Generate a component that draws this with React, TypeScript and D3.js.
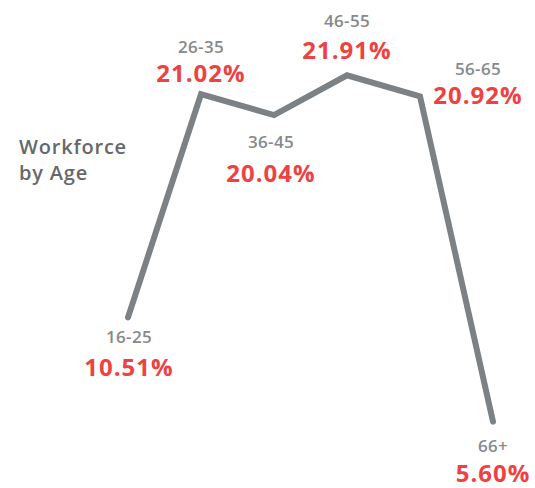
import React, { useRef, useEffect } from 'react';
import * as d3 from 'd3';

const AGE_GROUPS = ['16-25', '26-35', '36-45', '46-55', '56-65', '66+'];
const SHARE = [10.51, 21.02, 20.04, 21.91, 20.92, 5.6];
const TITLE_LINES = ['Workforce', 'by Age'];

const WIDTH = 535;
const HEIGHT = 488;
const LINE_COLOR = '#7b8184';
const LABEL_GREY = '#86898b';
const VALUE_RED = '#ee4242';

// where each label sits relative to its point: [dx, category dy, value dy]
const LABEL_OFFSETS: [number, number, number][] = [
  [1, 26, 59],
  [0, -41, -12],
  [-3, 33, 67],
  [0, -48, -16],
  [58, -21, 8],
  [0, 30, 60],
];

const App = () => {
  const svgRef = useRef<SVGSVGElement>(null);

  useEffect(() => {
    const svg = d3.select(svgRef.current);
    svg.selectAll('*').remove();

    const data = AGE_GROUPS.map((g, i) => ({ group: g, value: SHARE[i] }));

    const x = d3.scalePoint<string>().domain(AGE_GROUPS).range([128, 493]);
    const y = d3.scaleLinear().domain([0, 25]).range([540.5, 9.7]);

    const line = d3.line<{ group: string; value: number }>()
      .x(d => x(d.group) as number)
      .y(d => y(d.value));

    svg.append('path')
      .datum(data)
      .attr('d', line)
      .attr('fill', 'none')
      .attr('stroke', LINE_COLOR)
      .attr('stroke-width', 6)
      .attr('stroke-linejoin', 'miter')
      .attr('stroke-linecap', 'round');

    const labels = svg.selectAll('g.label')
      .data(data)
      .join('g')
      .attr('class', 'label')
      .attr('transform', (d, i) => `translate(${(x(d.group) as number) + LABEL_OFFSETS[i][0]},${y(d.value)})`)
      .attr('text-anchor', 'middle')
      .style('font-family', '"Open Sans", sans-serif');

    labels.append('text')
      .attr('y', (d, i) => LABEL_OFFSETS[i][1])
      .attr('fill', LABEL_GREY)
      .style('font-size', '17px')
      .style('font-weight', 600)
      .style('letter-spacing', '0.3px')
      .text(d => d.group);

    labels.append('text')
      .attr('y', (d, i) => LABEL_OFFSETS[i][2])
      .attr('fill', VALUE_RED)
      .style('font-size', '24px')
      .style('font-weight', 700)
      .style('letter-spacing', '1px')
      .text(d => `${d.value.toFixed(2)}%`);

    // title block on the left
    svg.selectAll('text.title')
      .data(TITLE_LINES)
      .join('text')
      .attr('class', 'title')
      .attr('x', 19)
      .attr('y', (d, i) => 154 + i * 26)
      .attr('fill', '#666869')
      .style('font-family', '"Open Sans", sans-serif')
      .style('font-size', '20px')
      .style('font-weight', 600)
      .style('letter-spacing', '0.8px')
      .text(d => d);
  }, []);

  return (
    <svg
      ref={svgRef}
      width={WIDTH}
      height={HEIGHT}
      style={{ position: 'absolute', left: 0, top: 0, background: '#fff' }}
    />
  );
};

export default App;
